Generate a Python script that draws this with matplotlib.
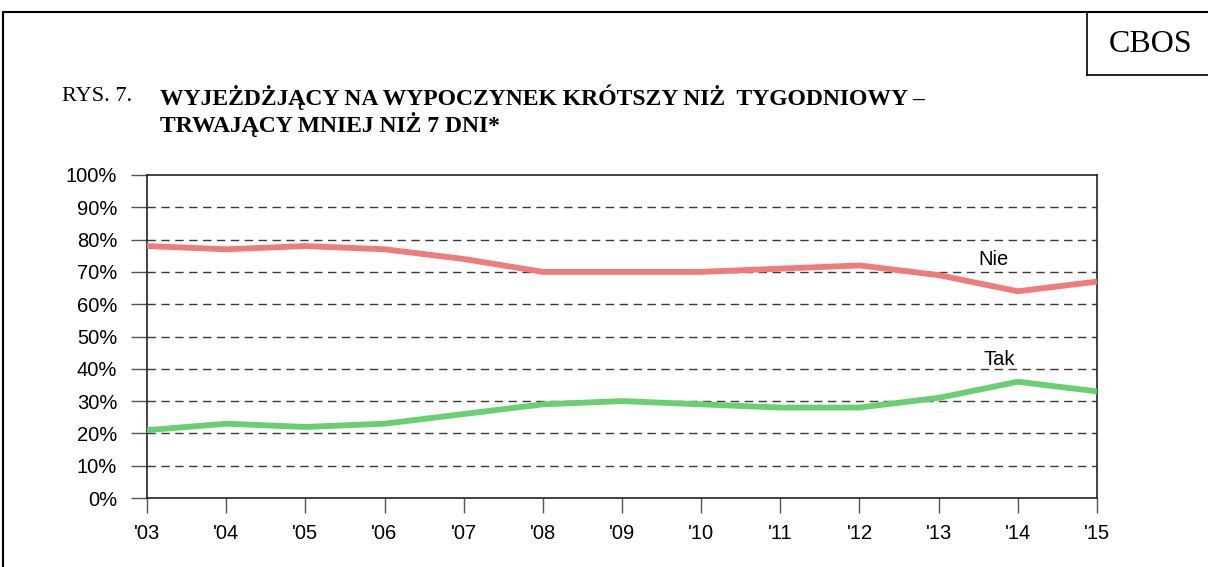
import matplotlib.pyplot as plt
from matplotlib.lines import Line2D

years = ["'03", "'04", "'05", "'06", "'07", "'08", "'09", "'10", "'11", "'12", "'13", "'14", "'15"]
nie = [78, 77, 78, 77, 74, 70, 70, 70, 71, 72, 69, 64, 67]
tak = [21, 23, 22, 23, 26, 29, 30, 29, 28, 28, 31, 36, 33]
y_ticks = [0, 10, 20, 30, 40, 50, 60, 70, 80, 90, 100]

RED = "#f07b7b"
GREEN = "#68d070"
W, H = 1208, 567

fig = plt.figure(figsize=(W / 100, H / 100), dpi=100)
ax = fig.add_axes([147 / W, 1 - 498 / H, 950 / W, 323 / H])

x = list(range(len(years)))
ax.plot(x, nie, color=RED, lw=4.2, solid_capstyle="butt", zorder=3)
ax.plot(x, tak, color=GREEN, lw=4.2, solid_capstyle="butt", zorder=3)

ax.set_xlim(0, len(years) - 1)
ax.set_ylim(0, 100)
ax.set_yticks(y_ticks)
ax.set_yticklabels([f"{v}%" for v in y_ticks], family="Liberation Sans", fontsize=14.5)
ax.set_xticks(x)
ax.set_xticklabels(years, family="Liberation Sans", fontsize=14.5)
ax.tick_params(axis="y", length=11.5, width=1, color="#555555", pad=10)
ax.tick_params(axis="x", length=11, width=1, color="#555555", pad=8)
for v in y_ticks[1:-1]:
    ax.axhline(v, color="#3a3a3a", lw=1, ls=(0, (6, 4)), zorder=1)
for s in ax.spines.values():
    s.set_linewidth(1.2)
    s.set_color("#222222")

ax.text(10.69, 73.7, "Nie", family="Liberation Sans", fontsize=14.5, ha="center", va="center")
ax.text(10.76, 42.8, "Tak", family="Liberation Sans", fontsize=14.5, ha="center", va="center")

# title
fig.text(62 / W, 1 - 97 / H, "RYS. 7.", family="Liberation Serif", fontsize=16, va="center")
fig.text(160 / W, 1 - 97 / H, "WYJEŻDŻJĄCY NA WYPOCZYNEK KRÓTSZY NIŻ  TYGODNIOWY –",
         family="Liberation Serif", fontweight="bold", fontsize=17, va="center")
fig.text(160 / W, 1 - 125 / H, "TRWAJĄCY MNIEJ NIŻ 7 DNI*",
         family="Liberation Serif", fontweight="bold", fontsize=17, va="center")

# frame and CBOS box
fig.add_artist(Line2D([3 / W, 1], [1 - 12 / H, 1 - 12 / H], color="black", lw=1.5))
fig.add_artist(Line2D([3 / W, 3 / W], [0, 1 - 12 / H], color="black", lw=1.5))
fig.add_artist(Line2D([1087 / W, 1087 / W], [1 - 75 / H, 1 - 12 / H], color="black", lw=1.2))
fig.add_artist(Line2D([1087 / W, 1], [1 - 75 / H, 1 - 75 / H], color="black", lw=1.2))
fig.text(1151 / W, 1 - 44 / H, "CBOS", family="Liberation Serif", fontsize=23, ha="center", va="center")

fig.savefig("out.png", dpi=100)
